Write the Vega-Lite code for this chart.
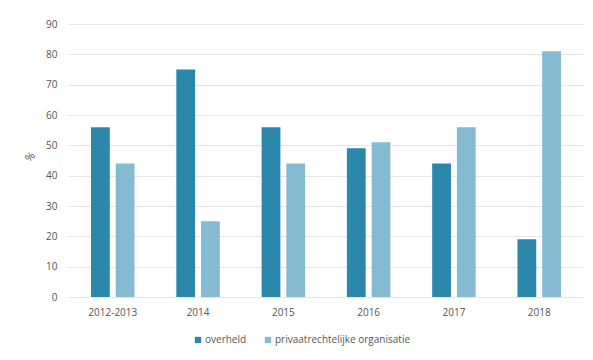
{
  "$schema": "https://vega.github.io/schema/vega-lite/v6.json",
  "autosize": "none",
  "width": 516,
  "height": 273,
  "padding": {"left": 68, "top": 24, "right": 9, "bottom": 63},
  "background": "white",
  "data": {
    "values": [
      {"jaar": "2012-2013", "type": "overheld", "pct": 56},
      {"jaar": "2012-2013", "type": "privaatrechtelijke organisatie", "pct": 44},
      {"jaar": "2014", "type": "overheld", "pct": 75},
      {"jaar": "2014", "type": "privaatrechtelijke organisatie", "pct": 25},
      {"jaar": "2015", "type": "overheld", "pct": 56},
      {"jaar": "2015", "type": "privaatrechtelijke organisatie", "pct": 44},
      {"jaar": "2016", "type": "overheld", "pct": 49},
      {"jaar": "2016", "type": "privaatrechtelijke organisatie", "pct": 51},
      {"jaar": "2017", "type": "overheld", "pct": 44},
      {"jaar": "2017", "type": "privaatrechtelijke organisatie", "pct": 56},
      {"jaar": "2018", "type": "overheld", "pct": 19},
      {"jaar": "2018", "type": "privaatrechtelijke organisatie", "pct": 81}
    ]
  },
  "mark": {"type": "bar"},
  "encoding": {
    "x": {
      "field": "jaar", "type": "nominal", "sort": null,
      "scale": {"paddingInner": 0.49, "paddingOuter": 0.27},
      "axis": {"title": null, "labelAngle": 0, "domain": false, "ticks": false, "labelPadding": 10, "grid": false}
    },
    "xOffset": {
      "field": "type", "type": "nominal",
      "scale": {"paddingInner": 0.24, "paddingOuter": 0}
    },
    "y": {
      "field": "pct", "type": "quantitative",
      "scale": {"domain": [0, 90]},
      "axis": {"title": "%", "values": [0,10,20,30,40,50,60,70,80,90], "domain": false, "ticks": false, "labelPadding": 11, "titlePadding": 12, "titleAngle": -45, "titleFontWeight": "normal", "titleFontSize": 11, "titleColor": "#555"}
    },
    "color": {
      "field": "type", "type": "nominal",
      "scale": {"domain": ["overheld", "privaatrechtelijke organisatie"], "range": ["#2b88ab", "#84bbd3"]},
      "legend": {"title": null, "orient": "none", "direction": "horizontal", "legendX": 125, "legendY": 311, "symbolType": "square", "symbolSize": 40, "columnPadding": 16, "labelOffset": 2}
    }
  },
  "config": {
    "font": "Open Sans",
    "view": {"stroke": null},
    "axis": {"labelFont": "Open Sans", "labelFontSize": 10, "labelColor": "#555", "gridColor": "#e6e6e6", "titleFont": "Open Sans"},
    "legend": {"labelFont": "Open Sans", "labelFontSize": 10, "labelColor": "#555"}
  }
}
